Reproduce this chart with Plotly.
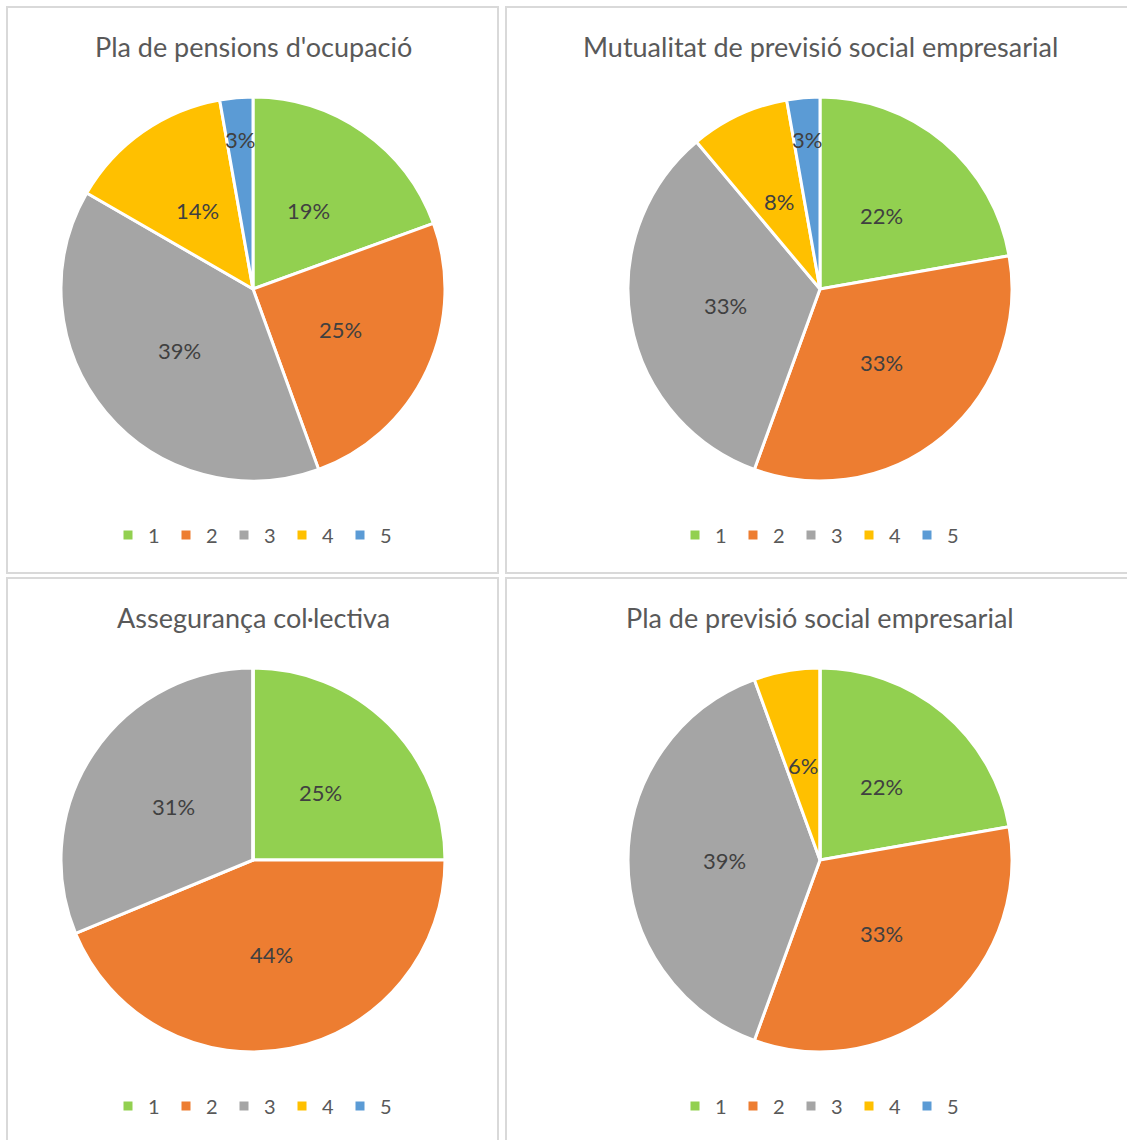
import math
import plotly.graph_objects as go

W, H = 1127, 1140

categories = ["1", "2", "3", "4", "5"]
titles = [
    "Pla de pensions d'ocupació",
    "Mutualitat de previsió social empresarial",
    "Assegurança col·lectiva",
    "Pla de previsió social empresarial",
]
values_pension = [7, 9, 14, 5, 1]
values_mutualitat = [8, 12, 12, 3, 1]
values_asseguranca = [4, 7, 5, 0, 0]
values_pla_previsio = [4, 6, 7, 1, 0]
series = [values_pension, values_mutualitat, values_asseguranca, values_pla_previsio]

colors = ["#92D050", "#ED7D31", "#A5A5A5", "#FFC000", "#5B9BD5"]

FONT = "Lato"
# layout: pie centres (px) and radius
centers = [(253, 289), (820, 289), (253, 860), (820, 860)]
R = 192
title_y = [46, 46, 617, 617]
legend_y = [535, 535, 1106, 1106]
panels = [(7, 7, 498, 573), (506, 7, 1128, 573), (7, 578, 498, 1141), (506, 578, 1128, 1141)]

fig = go.Figure()
annotations = []
shapes = []
legend_names = ["legend", "legend2", "legend3", "legend4"]
layout_legends = {}

for i, vals in enumerate(series):
    cx, cy = centers[i]
    # zero-width spaces keep each chart's legend labels distinct (plotly merges equal pie labels)
    labels_i = [c + "\u200b" * i for c in categories]
    fig.add_trace(go.Pie(
        labels=labels_i,
        values=vals,
        sort=False,
        direction="clockwise",
        rotation=0,
        marker=dict(colors=colors, line=dict(color="white", width=3)),
        textinfo="none",
        hoverinfo="label+percent",
        domain=dict(x=[(cx - R) / W, (cx + R) / W], y=[1 - (cy + R) / H, 1 - (cy - R) / H]),
        legend=legend_names[i],
        showlegend=True,
    ))
    total = sum(vals)
    cum = 0
    for v in vals:
        if v > 0:
            frac = v / total
            mid = (cum + v / 2) / total * 2 * math.pi
            rr = R * (0.78 if frac < 0.05 else 0.5)
            px = cx + rr * math.sin(mid)
            py = cy - rr * math.cos(mid)
            annotations.append(dict(
                x=px / W, y=1 - py / H, xref="paper", yref="paper",
                text=f"{round(frac * 100)}%", showarrow=False,
                font=dict(family=FONT, size=22, color="#404040"),
                xanchor="center", yanchor="middle",
            ))
        cum += v
    annotations.append(dict(
        x=cx / W, y=1 - title_y[i] / H, xref="paper", yref="paper",
        text=titles[i], showarrow=False,
        font=dict(family=FONT, size=27, color="#595959"),
        xanchor="center", yanchor="middle",
    ))
    layout_legends[legend_names[i]] = dict(
        orientation="h", x=cx / W, y=1 - legend_y[i] / H,
        xanchor="center", yanchor="middle",
        font=dict(family=FONT, size=20, color="#595959"),
        itemwidth=30, entrywidth=13, entrywidthmode="pixels",
        bgcolor="rgba(0,0,0,0)", traceorder="normal",
    )
    x0, y0, x1, y1 = panels[i]
    shapes.append(dict(
        type="rect", xref="paper", yref="paper",
        x0=x0 / W, x1=x1 / W, y0=1 - y0 / H, y1=1 - y1 / H,
        line=dict(color="#D9D9D9", width=2), fillcolor="rgba(0,0,0,0)",
    ))

fig.update_layout(
    width=W, height=H,
    margin=dict(l=0, r=0, t=0, b=0),
    paper_bgcolor="white", plot_bgcolor="white",
    annotations=annotations, shapes=shapes,
    **layout_legends,
)

fig.write_html("out.html")
